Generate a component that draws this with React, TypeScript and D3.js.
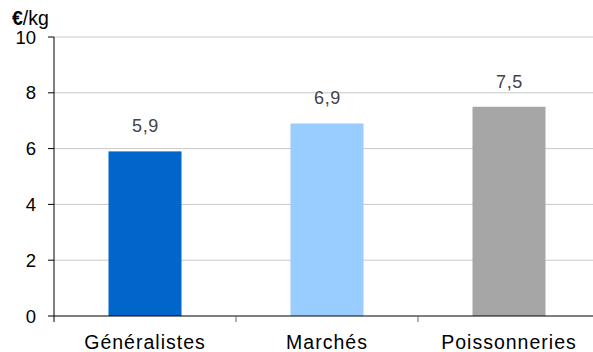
import React from "react";
import * as d3 from "d3";

const categories = ["Généralistes", "Marchés", "Poissonneries"];
const values = [5.9, 6.9, 7.5];
const valueLabels = ["5,9", "6,9", "7,5"];
const colors = ["#0066CC", "#99CCFF", "#A6A6A6"];
const yTicks = [0, 2, 4, 6, 8, 10];

export default function App() {
  const W = 593, H = 352;
  const left = 54, right = 600, top = 37, bottom = 316;
  const x = d3.scaleBand<string>().domain(categories).range([left, right]).paddingInner(0).paddingOuter(0);
  const y = d3.scaleLinear().domain([0, 10]).range([bottom, top]);
  const barW = 73;
  const font = "'Liberation Sans', Arial, sans-serif";
  const step = x.step();
  return (
    <svg width={W} height={H} style={{ position: "absolute", left: 0, top: 0, background: "#fff" }} fontFamily={font}>
      {yTicks.filter(t => t > 0).map(t => (
        <line key={"g" + t} x1={left} x2={W} y1={y(t)} y2={y(t)} stroke="#C8C8C8" strokeWidth={1} />
      ))}
      {categories.map((c, i) => {
        const cx = x(c)! + step / 2;
        return (
          <g key={c}>
            <rect x={cx - barW / 2} y={y(values[i])} width={barW} height={y(0) - y(values[i])} fill={colors[i]} />
            <text x={cx + 0.5} y={y(values[i]) - 19} textAnchor="middle" fontSize={18} fill="#444" letterSpacing={0.6}>{valueLabels[i]}</text>
            <text x={cx} y={349} textAnchor="middle" fontSize={19.5} fill="#000" letterSpacing={1}>{c}</text>
          </g>
        );
      })}
      <line x1={left} x2={left} y1={top} y2={bottom} stroke="#000" strokeWidth={1} />
      <line x1={left} x2={W} y1={bottom} y2={bottom} stroke="#000" strokeWidth={1} />
      {yTicks.map(t => (
        <g key={"t" + t}>
          <line x1={left - 6} x2={left} y1={y(t)} y2={y(t)} stroke="#000" />
          <text x={36} y={y(t) + 6.5} textAnchor="end" fontSize={18.5} fill="#000">{t}</text>
        </g>
      ))}
      {categories.map((c, i) => (
        <line key={"xt" + i} x1={x(c)!} x2={x(c)!} y1={bottom} y2={bottom + 6} stroke={i === 0 ? "#000" : "#666"} />
      ))}
      <text x={12} y={25} fontSize={19.5} fill="#000">
        <tspan fontWeight="bold">€</tspan>/kg
      </text>
    </svg>
  );
}
